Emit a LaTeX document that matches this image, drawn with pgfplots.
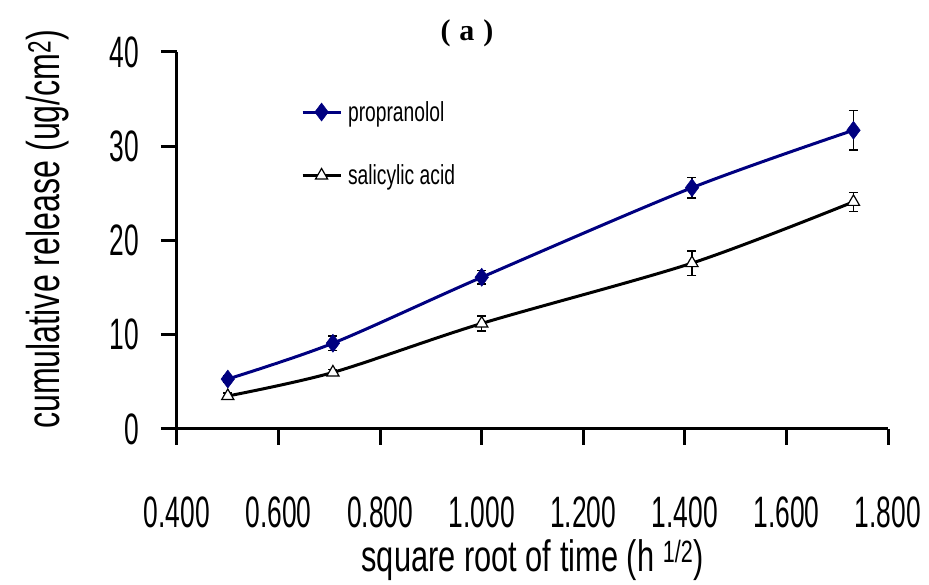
\documentclass[border=0pt]{standalone}
\usepackage{fontspec}
\setmainfont[FakeStretch=0.70]{Liberation Sans}
\newfontfamily\numfont[FakeStretch=0.60]{Liberation Sans}
\newfontfamily\titlefont{Liberation Serif}
\usepackage{pgfplots}
\usepackage{pgfplotstable}
\pgfplotsset{compat=1.18}
\definecolor{navyline}{RGB}{0,0,128}

% cumulative release vs. square root of time, mean and error
\pgfplotstableread{
x      y     e
0.500  5.3   0.3
0.707  9.1   0.75
1.000  16.1  0.7
1.414  25.6  1.1
1.732  31.7  2.1
}\propranolol
\pgfplotstableread{
x      y     e
0.500  3.5   0.3
0.707  6.0   0.3
1.000  11.2  0.8
1.414  17.6  1.3
1.732  24.1  1.0
}\salicylic

\begin{document}
\begin{tikzpicture}
\useasboundingbox (-177pt,-156pt) rectangle (752pt,429pt);
\begin{axis}[
  scale only axis, width=711pt, height=377pt,
  xmin=0.4, xmax=1.8, ymin=0, ymax=40,
  axis x line=bottom, axis y line=left,
  axis line style={-, line width=3pt},
  xtick={0.4,0.6,0.8,1.0,1.2,1.4,1.6,1.8},
  ytick={0,10,20,30,40},
  tick align=outside, major tick length=16pt,
  every tick/.style={black, line width=3pt},
  /pgf/number format/assume math mode=true,
  tick label style={font=\numfont\fontsize{44}{44}\selectfont, inner sep=0pt},
  xticklabel style={/pgf/number format/fixed, /pgf/number format/fixed zerofill,
    /pgf/number format/precision=3, anchor=base, yshift=-83pt},
  yticklabel style={anchor=east, xshift=-22pt},
  xlabel={square root of time (h \textsuperscript{1/2})},
  xlabel style={at={(axis description cs:0.5,0)}, anchor=base, yshift=-143pt,
    inner sep=0pt, font=\fontsize{44}{44}\selectfont},
  ylabel={cumulative release (ug/cm\textsuperscript{2})},
  ylabel style={at={(axis description cs:-0.165,0.53)}, anchor=base,
    inner sep=0pt, font=\fontsize{46}{46}\selectfont},
  legend style={draw=none, fill=none, at={(axis description cs:0.170,0.875)},
    anchor=north west, font=\fontsize{27.5}{27.5}\selectfont,
    row sep=42pt, column sep=6pt,
    nodes={inner sep=0pt}},
  legend cell align=left,
  legend image code/.code={\draw[mark repeat=2, mark phase=2, #1]
    plot coordinates {(0pt,0pt) (19pt,0pt) (38pt,0pt)};},
  clip=false,
]
\addplot[navyline, line width=3pt, smooth, tension=0.5,
  mark=diamond*, mark size=9pt, mark options={solid, fill=navyline, draw=navyline, line width=0.5pt},
  error bars/.cd, y dir=both, y explicit, error mark=-,
  error bar style={black, line width=1.5pt},
  error mark options={rotate=90, black, line width=1.5pt, mark size=4.5pt}]
  table[x=x, y=y, y error=e] {\propranolol};
\addlegendentry{propranolol}
\addplot[black, line width=3pt, smooth, tension=0.5,
  mark=triangle*, mark size=7pt, mark options={solid, fill=white, draw=black, line width=1.2pt},
  error bars/.cd, y dir=both, y explicit, error mark=-,
  error bar style={black, line width=1.5pt},
  error mark options={rotate=90, black, line width=1.5pt, mark size=4.5pt}]
  table[x=x, y=y, y error=e] {\salicylic};
\addlegendentry{salicylic acid}
\end{axis}
\node[anchor=base, font=\titlefont\bfseries\fontsize{30}{30}\selectfont]
  at (290pt,388pt) {(\hspace{9pt}a\hspace{9pt})};
\end{tikzpicture}
\end{document}
